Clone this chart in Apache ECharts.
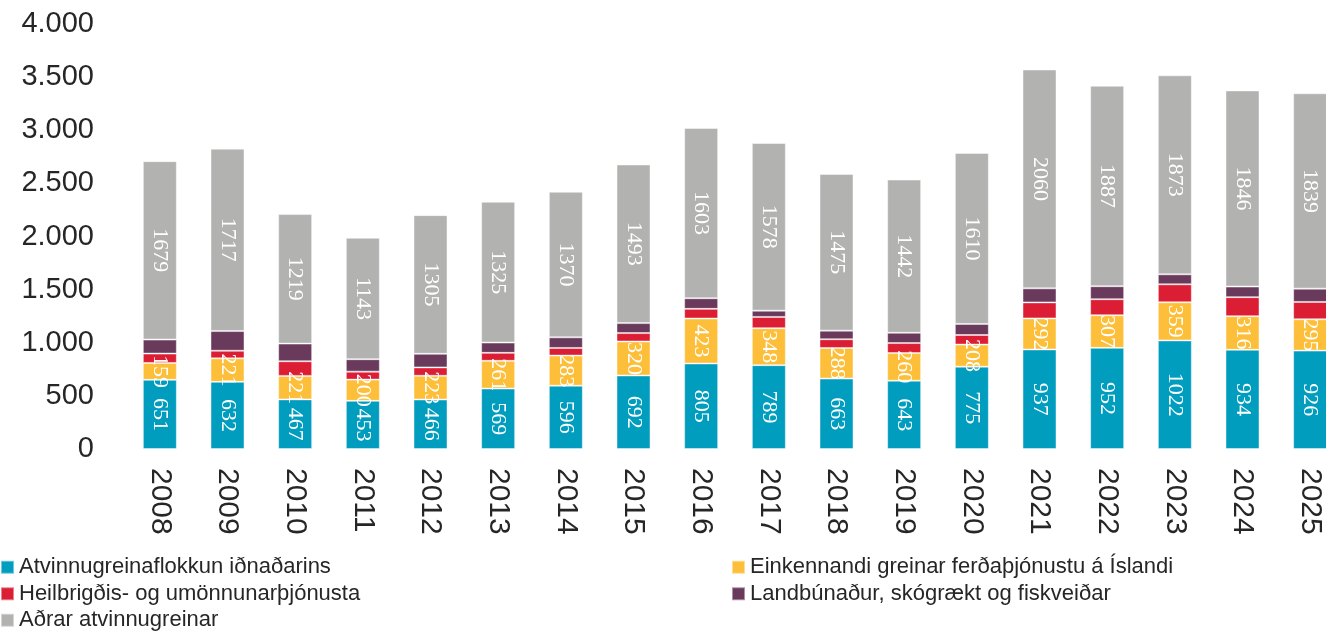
<!DOCTYPE html>
<html>
<head>
<meta charset="utf-8">
<script src="https://cdn.jsdelivr.net/npm/echarts@6/dist/echarts.min.js"></script>
<style>html,body{margin:0;padding:0;background:#fff;}#c{width:1326px;height:636px;}</style>
</head>
<body>
<div id="c"></div>
<script>
var years = ['2008','2009','2010','2011','2012','2013','2014','2015','2016','2017','2018','2019','2020','2021','2022','2023','2024','2025'];
var names = ['Atvinnugreinaflokkun iðnaðarins','Einkennandi greinar ferðaþjónustu á Íslandi','Heilbrigðis- og umönnunarþjónusta','Landbúnaður, skógrækt og fiskveiðar','Aðrar atvinnugreinar'];
var industry = [651,632,467,453,466,569,596,692,805,789,663,643,775,937,952,1022,934,926];
var tourism = [159,221,221,200,223,261,283,320,423,348,288,260,208,292,307,359,316,295];
var health = [88,72,138,75,79,75,72,79,91,106,82,94,90,151,151,169,179,163];
var agriculture = [132,185,166,117,128,97,100,94,100,59,81,97,104,132,122,94,100,125];
var other = [1679,1717,1219,1143,1305,1325,1370,1493,1603,1578,1475,1442,1610,2060,1887,1873,1846,1839];
var yTicks = [0,500,1000,1500,2000,2500,3000,3500,4000];

var colors = ['#009DBF','#FDBF3A','#DC1E34','#6A3A5C','#B2B3B1'];
var values = [industry, tourism, health, agriculture, other];
var showLabel = [true, true, false, false, true];

var chart = echarts.init(document.getElementById('c'), null, {renderer:'canvas'});
var series = values.map(function(v, i){
  return {
    name: names[i], type: 'bar', stack: 'total', data: v, barWidth: 34,
    itemStyle: {color: colors[i], borderColor: 'rgba(255,255,255,0.45)', borderWidth: 1},
    label: {show: showLabel[i], position: 'inside', rotate: -90, color: '#fff',
      fontFamily: 'Liberation Serif', fontSize: 22},
    emphasis: {disabled: true}
  };
});
var legendText = {fontFamily: 'Liberation Sans, Arial', fontSize: 22, color: '#262626', lineHeight: 26.5};
chart.setOption({
  animation: false,
  grid: {left: 126, width: 1218, top: 24, bottom: 187, containLabel: false, outerBoundsMode: 'none'},
  legend: [
    {data: [names[0], names[2], names[4]], orient: 'vertical', left: 0, top: 554, padding: 0, itemGap: 0,
     itemWidth: 13, itemHeight: 13, icon: 'rect', selectedMode: false, textStyle: legendText},
    {data: [names[1], names[3]], orient: 'vertical', left: 731, top: 554, padding: 0, itemGap: 0,
     itemWidth: 13, itemHeight: 13, icon: 'rect', selectedMode: false, textStyle: legendText}
  ],
  xAxis: {
    type: 'category', data: years,
    axisLine: {show: false}, axisTick: {show: false},
    axisLabel: {rotate: -90, margin: 19, fontFamily: 'Liberation Sans', fontSize: 30, color: '#262626'}
  },
  yAxis: {
    type: 'value', min: yTicks[0], max: yTicks[yTicks.length-1], interval: yTicks[1]-yTicks[0],
    splitLine: {show: false}, axisLine: {show: false}, axisTick: {show: false},
    axisLabel: {margin: 32, fontFamily: 'Liberation Sans', fontSize: 29, color: '#262626',
      formatter: function(v){ return String(v).replace(/\B(?=(\d{3})+(?!\d))/g, '.'); }}
  },
  series: series
});
</script>
</body>
</html>
